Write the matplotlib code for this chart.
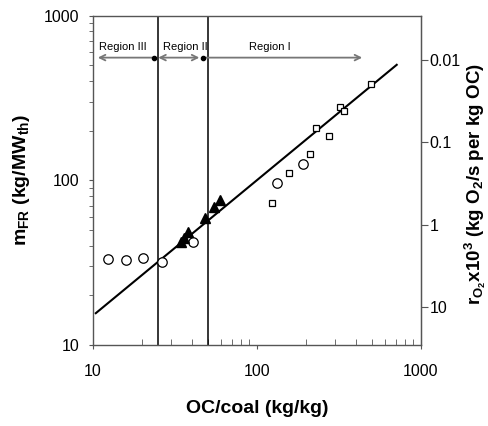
import numpy as np
import matplotlib.pyplot as plt
from matplotlib.ticker import NullLocator, FixedLocator

plt.rcParams['font.family'] = ['Liberation Sans', 'DejaVu Sans']
plt.rcParams['mathtext.fontset'] = 'custom'
plt.rcParams['mathtext.rm'] = 'Liberation Sans'
plt.rcParams['mathtext.bf'] = 'Liberation Sans:bold'
plt.rcParams['mathtext.default'] = 'bf'

# open circles
circ_x = [12.3, 15.8, 20.1, 26.4, 40.9, 133, 190]
circ_y = [33.4, 32.7, 33.8, 32.1, 41.9, 96.4, 125]
# open squares
sq_x = [123, 157, 209, 229, 276, 321, 341, 493]
sq_y = [72.8, 111, 144, 208, 185, 278, 263, 385]
# filled triangles
tri_x = [34.4, 35.9, 38.2, 48.2, 54.9, 59.4]
tri_y = [42.4, 44.5, 48.4, 58.6, 68.9, 75.7]
# fitted line end points
fit_x = [10.4, 711]
fit_y = [15.6, 502]
# region boundaries
bounds = [25, 50]
# oxygen transfer rate axis: r = C / m^2
C = 2900.0
r_ticks = [0.01, 0.1, 1, 10]
r_labels = ['0.01', '0.1', '1', '10']

fig = plt.figure(figsize=(4.88, 4.26), dpi=100)
ax = fig.add_axes([93/488, 81/426, 328/488, 329.5/426])
ax.set_xscale('log')
ax.set_yscale('log')
ax.set_xlim(10, 1000)
ax.set_ylim(10, 1000)

for b in bounds:
    ax.axvline(b, color='black', lw=1.1, zorder=2)

ax.plot(fit_x, fit_y, color='black', lw=1.5, zorder=3)
ax.plot(circ_x, circ_y, 'o', ms=6.8, mfc='white', mec='black', mew=0.9, zorder=4)
ax.plot(sq_x, sq_y, 's', ms=4.6, mfc='white', mec='black', mew=0.9, zorder=4)
ax.plot(tri_x, tri_y, '^', ms=7.5, color='black', zorder=5)

# region arrows
ya = 555
gray = '#777777'
ax.annotate('', xy=(10.7, ya), xytext=(23.5, ya),
            arrowprops=dict(arrowstyle='->', color=gray, lw=1.3, shrinkA=0, shrinkB=0))
ax.annotate('', xy=(25.0, ya), xytext=(44.5, ya),
            arrowprops=dict(arrowstyle='<->', color=gray, lw=1.3, shrinkA=0, shrinkB=0))
ax.annotate('', xy=(438, ya), xytext=(47, ya),
            arrowprops=dict(arrowstyle='->', color=gray, lw=1.3, shrinkA=0, shrinkB=0))
ax.plot([23.5, 47], [ya, ya], 'o', ms=3, color='black', zorder=6)
ax.text(15.3, 640, 'Region III', ha='center', va='center', fontsize=8)
ax.text(36.4, 640, 'Region II', ha='center', va='center', fontsize=8)
ax.text(119, 640, 'Region I', ha='center', va='center', fontsize=8)

for s in ax.spines.values():
    s.set_color('#555555')
    s.set_linewidth(1.0)

ax.set_xticks([10, 100, 1000], labels=['10', '100', '1000'])
ax.set_yticks([10, 100, 1000], labels=['10', '100', '1000'])
ax.tick_params(axis='x', which='major', direction='out', length=3, pad=11, labelsize=11.5, color='#555555')
ax.tick_params(axis='x', which='minor', direction='in', length=4, color='#555555')
ax.tick_params(axis='y', which='major', direction='out', length=3, pad=7, labelsize=11.5, color='#555555')
ax.tick_params(axis='y', which='minor', direction='out', length=3, color='#555555')

ax.set_xlabel('OC/coal (kg/kg)', fontsize=14, fontweight='bold')
ax.set_ylabel('m$_{FR}$ (kg/MW$_{th}$)', fontsize=14, fontweight='bold')
ax.xaxis.set_label_coords(0.5, -0.167)
ax.yaxis.set_label_coords(-0.186, 0.5)

sec = ax.secondary_yaxis('right', functions=(lambda m: C / np.asarray(m, float)**2,
                                              lambda r: np.sqrt(C / np.asarray(r, float))))
sec.yaxis.set_major_locator(FixedLocator(r_ticks))
sec.set_yticklabels(r_labels)
sec.yaxis.set_minor_locator(NullLocator())
sec.tick_params(axis='y', direction='out', length=5, pad=1, labelsize=11.5, color='#555555')
sec.spines['right'].set_color('#555555')
fig.text(475/488, 1 - 184/426, 'r$_{O_2}$x10$^3$ (kg O$_2$/s per kg OC)',
         rotation=90, ha='center', va='center', fontsize=13.5, fontweight='bold')

fig.savefig('out.png', dpi=100)
